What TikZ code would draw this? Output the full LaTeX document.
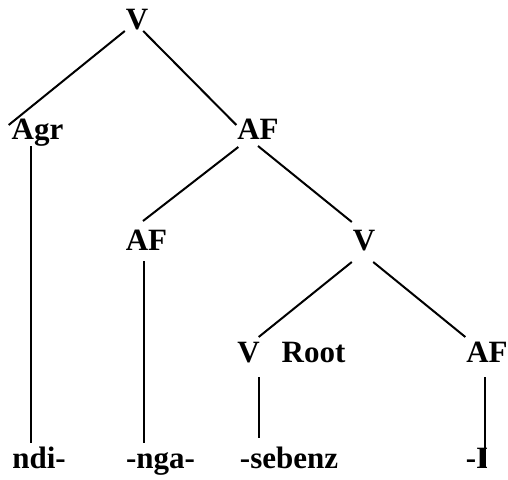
\documentclass[tikz,border=0pt]{standalone}
\usepackage{fontspec}
\setmainfont{Liberation Serif}
\usetikzlibrary{positioning}

\begin{document}
\begin{tikzpicture}[x=1pt, y=1pt, line width=2pt,
    lbl/.style={
    inner sep=0pt,
    anchor=base,
    text height=21pt,
    text depth=0pt,
    font=\fontsize{31}{36}\selectfont\bfseries},
    stem/.style={shorten >=3pt}]
    \useasboundingbox (0,0) rectangle (508,-479);

    \node [lbl] (Vtop) at (137,-29) {V};

    \node [lbl] (Agr) at (37.5,-139) {Agr};
    \node [lbl] (AFa) at (258,-139) {AF};

    \node [lbl] (AFb) at (146.5,-250) {AF};
    \node [lbl] (Vb)  at (364,-250) {V};

    \node [lbl] (Vc)  at (248.5,-362) {V};
    \node [lbl, right=20pt of Vc] (Root) {Root};
    \node [lbl] (AFc) at (487,-362) {AF};

    \node [lbl] (ndi)    at (39,-468)    {ndi-};
    \node [lbl] (nga)    at (160.5,-468) {-nga-};
    \node [lbl] (sebenz) at (289,-468)   {-sebenz};
    \node [lbl] (Isuf)   at (477,-468)   {-I};

    \draw ([yshift=-1pt]Vtop.south west) -- ([shift={(-2pt,-8pt)}]Agr.north west);
    \draw ([shift={(-6pt,-1pt)}]Vtop.south east) -- ([yshift=-8pt]AFa.north west);
    \draw ([shift={(2pt,-7pt)}]AFa.south west) -- ([shift={(-3.5pt,7pt)}]AFb.north);
    \draw ([yshift=-6pt]AFa.south) -- ([yshift=6pt]Vb.north west);
    \draw ([yshift=-11pt]Vb.south west) -- ([shift={(-2pt,3pt)}]Vc.north east);
    \draw ([shift={(-3pt,-11pt)}]Vb.south east) -- ([yshift=3pt]AFc.north west);

    \coordinate (agrfoot) at ([shift={(-6.5pt,-6pt)}]Agr.south);
    \coordinate (afbfoot) at ([shift={(-2.5pt,-10pt)}]AFb.south);
    \coordinate (vcfoot)  at ([shift={(-1.5pt,-14pt)}]Vc.south east);
    \coordinate (afcfoot) at ([shift={(-2pt,-14pt)}]AFc.south);

    \draw [stem] (agrfoot) -- (agrfoot |- ndi.north);
    \draw [stem] (afbfoot) -- (afbfoot |- nga.north);
    \draw [stem, shorten >=8pt] (vcfoot) -- (vcfoot |- sebenz.north);
    \draw (afcfoot) -- (afcfoot |- Isuf.base);
\end{tikzpicture}
\end{document}
